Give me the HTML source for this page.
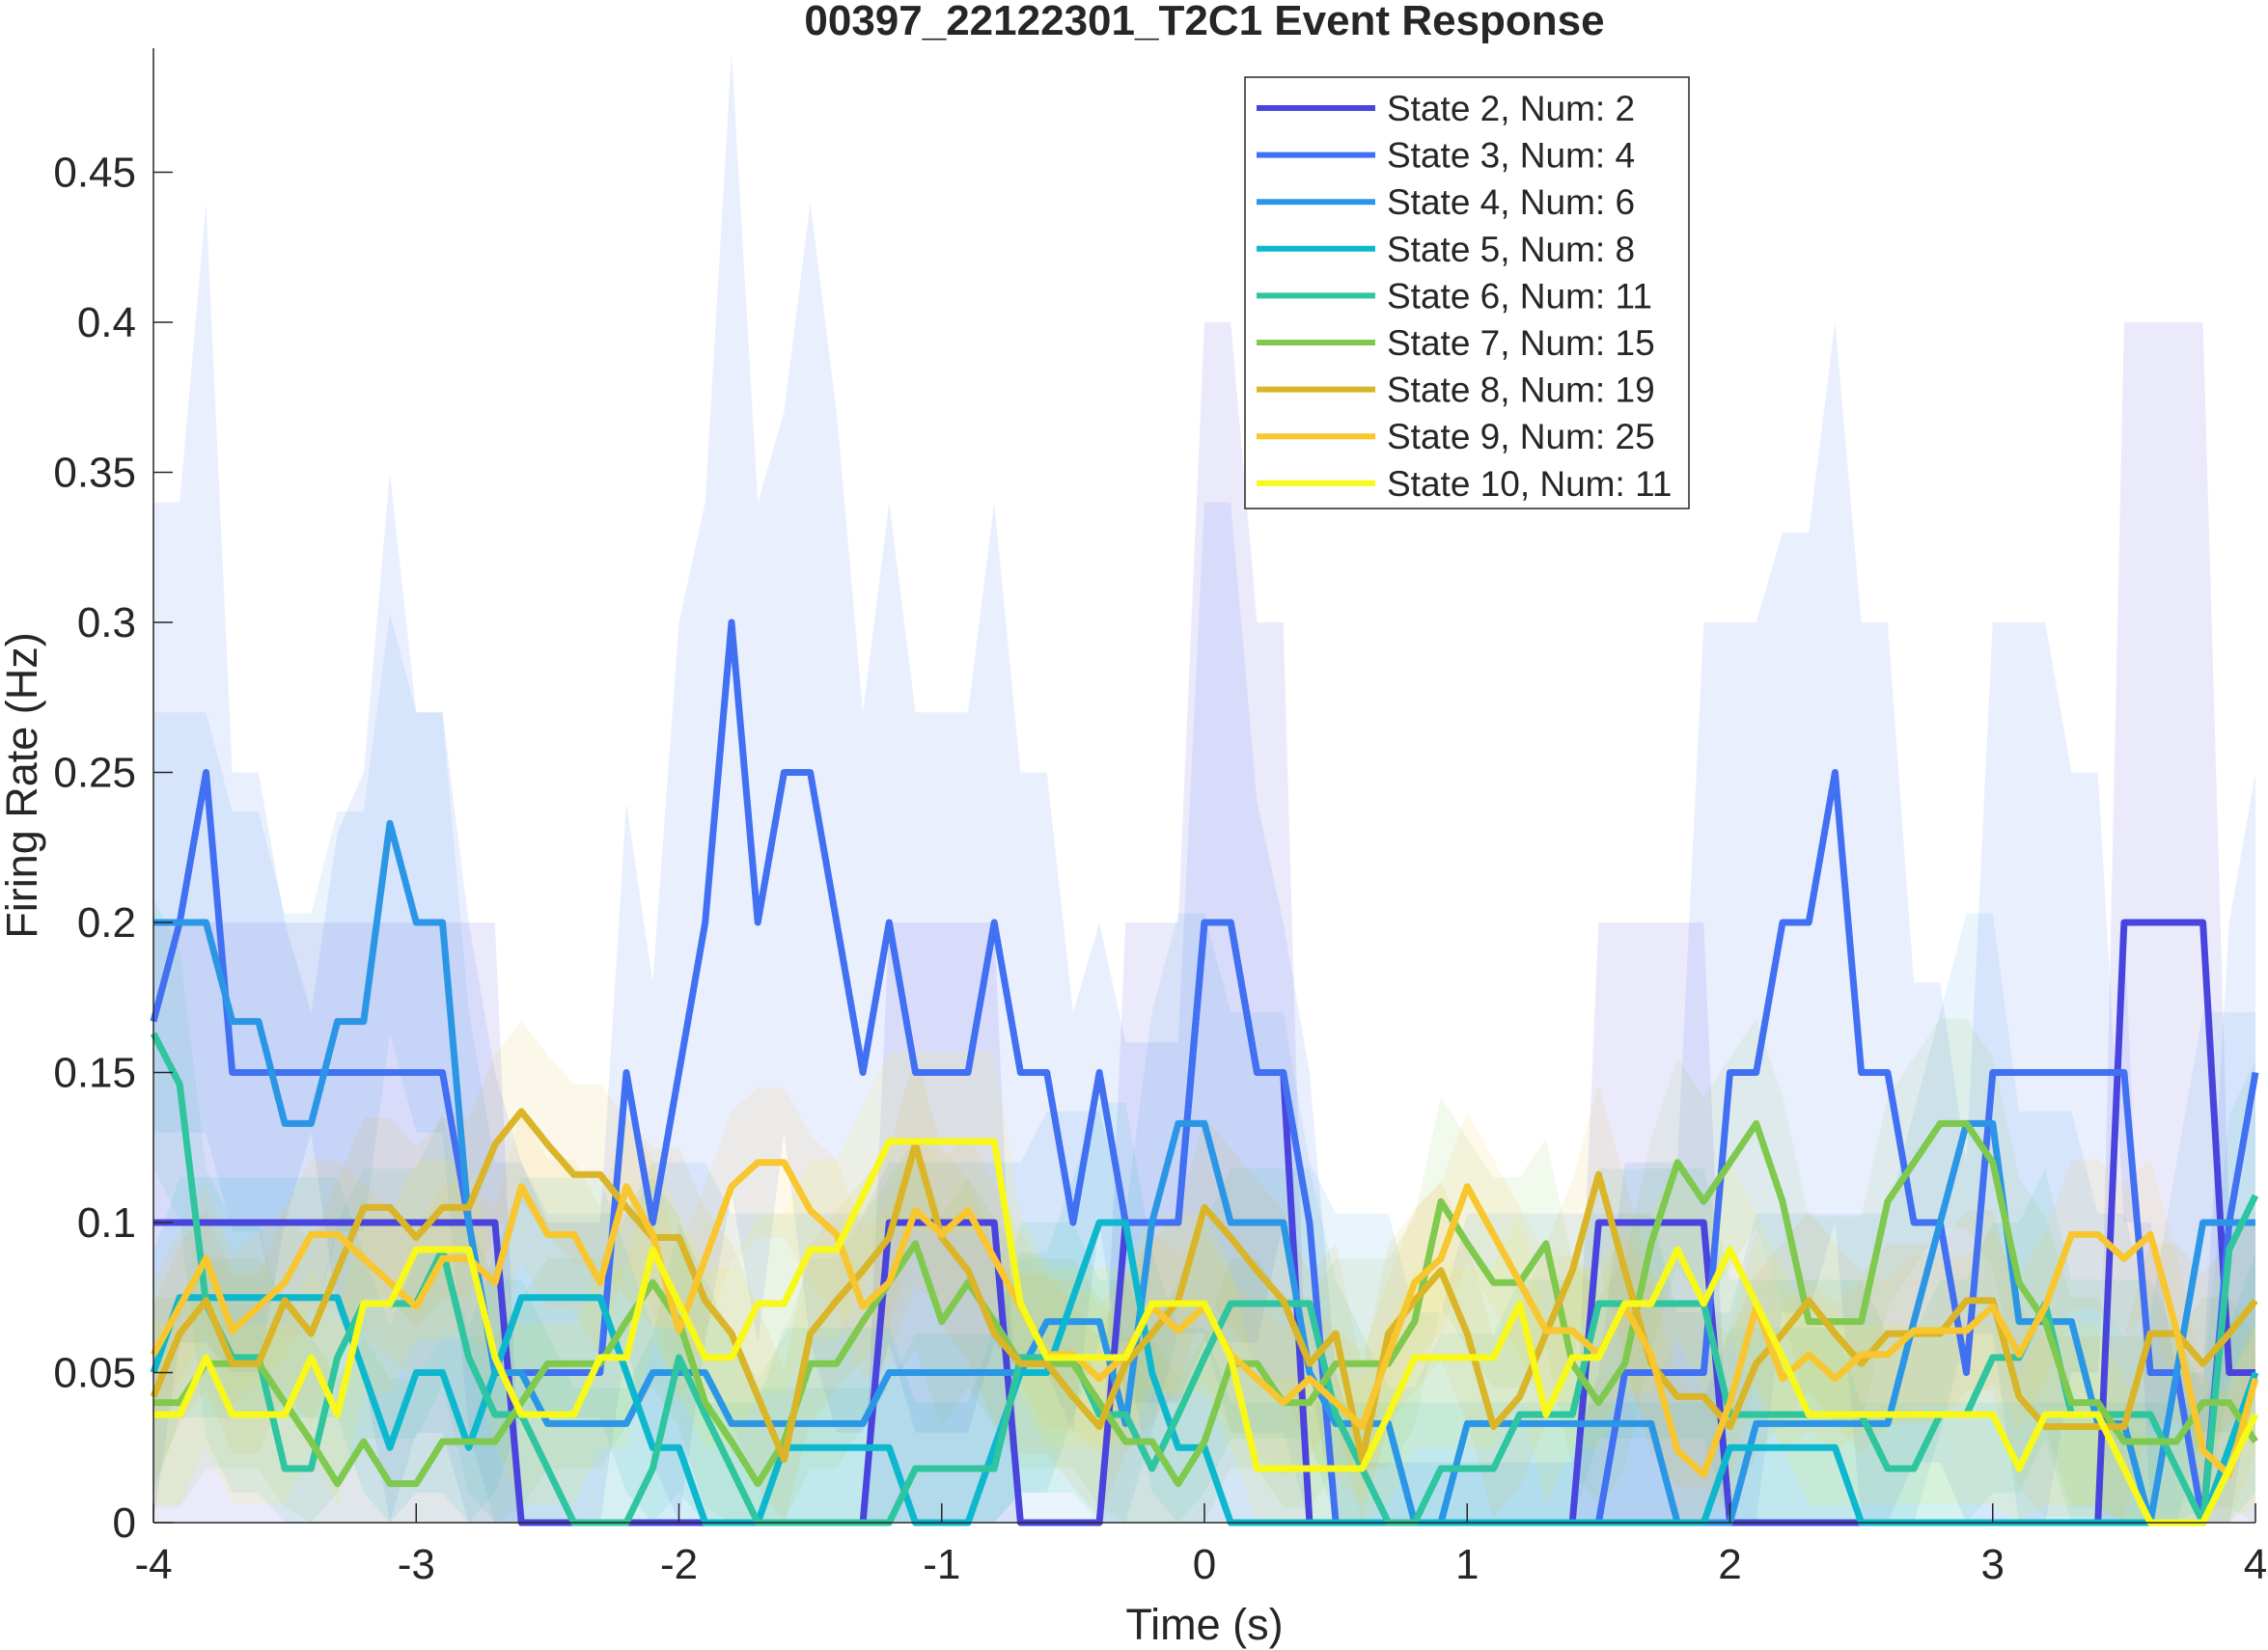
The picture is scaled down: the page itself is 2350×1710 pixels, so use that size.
<!DOCTYPE html>
<html><head><meta charset="utf-8"><style>
html,body{margin:0;padding:0;background:#fff}
svg{display:block}
text{font-family:"Liberation Sans",sans-serif;fill:#262626}
</style></head><body>
<svg id="chart" width="2350" height="1710" viewBox="0 0 2350 1710" xmlns="http://www.w3.org/2000/svg">
<rect width="2350" height="1710" fill="#fff"/>
<text x="1248" y="36" text-anchor="middle" font-size="44" font-weight="bold" fill="#000">00397_22122301_T2C1 Event Response</text>
<g id="bands"></g>
<g id="lines"></g>
<g id="axes"></g>
<g id="legend"></g>
<text x="1248" y="1699" text-anchor="middle" font-size="45">Time (s)</text>
<text transform="translate(38,814) rotate(-90)" text-anchor="middle" font-size="45">Firing Rate (Hz)</text>
</svg>
<script>
const times = [];
for (let i = 0; i <= 80; i++) times.push(-4 + i * 0.1);
const seriesNames = ["State 2, Num: 2","State 3, Num: 4","State 4, Num: 6","State 5, Num: 8","State 6, Num: 11","State 7, Num: 15","State 8, Num: 19","State 9, Num: 25","State 10, Num: 11"];
const seriesColors = ["#4A44DE","#4170F3","#2C96E6","#0DB8CF","#2FC59F","#7FC94E","#D9B527","#F8C62F","#F8F819"];
const xTicks = [-4,-3,-2,-1,0,1,2,3,4];
const yTicks = [0,0.05,0.1,0.15,0.2,0.25,0.3,0.35,0.4,0.45];
const yTickLabels = ["0","0.05","0.1","0.15","0.2","0.25","0.3","0.35","0.4","0.45"];
const s2 = [0.1,0.1,0.1,0.1,0.1,0.1,0.1,0.1,0.1,0.1,0.1,0.1,0.1,0.1,0,0,0,0,0,0,0,0,0,0,0,0,0,0,0.1,0.1,0.1,0.1,0.1,0,0,0,0,0.1,0.1,0.1,0.2,0.2,0.15,0.15,0,0,0,0,0,0,0,0,0,0,0,0.1,0.1,0.1,0.1,0.1,0,0,0,0,0,0,0,0,0,0,0,0,0,0,0,0.2,0.2,0.2,0.2,0.05,0.05];
const s3 = [0.167,0.2,0.25,0.15,0.15,0.15,0.15,0.15,0.15,0.15,0.15,0.15,0.1,0.05,0.05,0.05,0.05,0.05,0.15,0.1,0.15,0.2,0.3,0.2,0.25,0.25,0.2,0.15,0.2,0.15,0.15,0.15,0.2,0.15,0.15,0.1,0.15,0.1,0.1,0.1,0.2,0.2,0.15,0.15,0.1,0,0,0,0,0,0,0,0,0,0,0,0.05,0.05,0.05,0.05,0.15,0.15,0.2,0.2,0.25,0.15,0.15,0.1,0.1,0.05,0.15,0.15,0.15,0.15,0.15,0.15,0.05,0.05,0,0.1,0.15];
const s3Upper = [0.34,0.34,0.44,0.25,0.25,0.2,0.17,0.23,0.25,0.35,0.27,0.27,0.2,0.15,0.12,0.1,0.1,0.1,0.24,0.18,0.3,0.34,0.49,0.34,0.37,0.44,0.37,0.27,0.34,0.27,0.27,0.27,0.34,0.25,0.25,0.17,0.2,0.16,0.16,0.16,0.34,0.34,0.24,0.2,0.15,0.05,0.02,0.02,0.02,0.02,0.02,0.02,0.02,0.02,0.02,0.05,0.12,0.12,0.12,0.3,0.3,0.3,0.33,0.33,0.4,0.3,0.3,0.18,0.18,0.12,0.3,0.3,0.3,0.25,0.25,0.1,0.1,0.05,0.05,0.2,0.25];
const s4 = [0.2,0.2,0.2,0.167,0.167,0.133,0.133,0.167,0.167,0.233,0.2,0.2,0.1,0.05,0.05,0.033,0.033,0.033,0.033,0.05,0.05,0.05,0.033,0.033,0.033,0.033,0.033,0.033,0.05,0.05,0.05,0.05,0.05,0.05,0.067,0.067,0.067,0.033,0.1,0.133,0.133,0.1,0.1,0.1,0.05,0.033,0.033,0.033,0,0,0.033,0.033,0.033,0.033,0.033,0.033,0.033,0.033,0,0,0,0.033,0.033,0.033,0.033,0.033,0.033,0.067,0.1,0.133,0.133,0.067,0.067,0.067,0.033,0.033,0,0.05,0.1,0.1,0.1];
const s5 = [0.05,0.075,0.075,0.075,0.075,0.075,0.075,0.075,0.05,0.025,0.05,0.05,0.025,0.05,0.075,0.075,0.075,0.075,0.05,0.025,0.025,0,0,0,0.025,0.025,0.025,0.025,0.025,0,0,0,0.025,0.05,0.05,0.075,0.1,0.1,0.05,0.025,0.025,0,0,0,0,0,0,0,0,0,0,0,0,0,0,0,0,0,0,0,0.025,0.025,0.025,0.025,0.025,0,0,0,0,0,0,0,0,0,0,0,0,0,0,0.025,0.05];
const s6 = [0.163,0.146,0.073,0.055,0.055,0.018,0.018,0.055,0.073,0.073,0.073,0.091,0.055,0.036,0.036,0.018,0,0,0,0.018,0.055,0.036,0.018,0,0,0,0,0,0,0.018,0.018,0.018,0.018,0.055,0.055,0.055,0.036,0.036,0.018,0.036,0.055,0.073,0.073,0.073,0.073,0.036,0.018,0,0,0.018,0.018,0.018,0.036,0.036,0.036,0.073,0.073,0.073,0.073,0.073,0.036,0.036,0.036,0.036,0.036,0.036,0.018,0.018,0.036,0.036,0.055,0.055,0.073,0.036,0.036,0.036,0.036,0.018,0,0.091,0.109];
const s7 = [0.04,0.04,0.053,0.053,0.053,0.04,0.027,0.013,0.027,0.013,0.013,0.027,0.027,0.027,0.04,0.053,0.053,0.053,0.067,0.08,0.067,0.04,0.027,0.013,0.027,0.053,0.053,0.067,0.08,0.093,0.067,0.08,0.067,0.053,0.053,0.053,0.04,0.027,0.027,0.013,0.027,0.053,0.053,0.04,0.04,0.053,0.053,0.053,0.067,0.107,0.093,0.08,0.08,0.093,0.053,0.04,0.053,0.093,0.12,0.107,0.12,0.133,0.107,0.067,0.067,0.067,0.107,0.12,0.133,0.133,0.12,0.08,0.067,0.04,0.04,0.027,0.027,0.027,0.04,0.04,0.027];
const s8 = [0.042,0.063,0.074,0.053,0.053,0.074,0.063,0.084,0.105,0.105,0.095,0.105,0.105,0.126,0.137,0.126,0.116,0.116,0.105,0.095,0.095,0.074,0.063,0.042,0.021,0.063,0.074,0.084,0.095,0.126,0.095,0.084,0.063,0.053,0.053,0.042,0.032,0.053,0.063,0.074,0.105,0.095,0.084,0.074,0.053,0.063,0.021,0.063,0.074,0.084,0.063,0.032,0.042,0.063,0.084,0.116,0.084,0.053,0.042,0.042,0.032,0.053,0.063,0.074,0.063,0.053,0.063,0.063,0.063,0.074,0.074,0.042,0.032,0.032,0.032,0.032,0.063,0.063,0.053,0.063,0.074];
const s9 = [0.056,0.072,0.088,0.064,0.072,0.08,0.096,0.096,0.088,0.08,0.072,0.088,0.088,0.08,0.112,0.096,0.096,0.08,0.112,0.096,0.064,0.088,0.112,0.12,0.12,0.104,0.096,0.072,0.08,0.104,0.096,0.104,0.088,0.072,0.056,0.056,0.048,0.056,0.072,0.064,0.072,0.056,0.048,0.04,0.048,0.04,0.032,0.056,0.08,0.088,0.112,0.096,0.08,0.064,0.064,0.056,0.072,0.056,0.024,0.016,0.04,0.072,0.048,0.056,0.048,0.056,0.056,0.064,0.064,0.064,0.072,0.056,0.072,0.096,0.096,0.088,0.096,0.064,0.024,0.016,0.048];
const s10 = [0.036,0.036,0.055,0.036,0.036,0.036,0.055,0.036,0.073,0.073,0.091,0.091,0.091,0.055,0.036,0.036,0.036,0.055,0.055,0.091,0.073,0.055,0.055,0.073,0.073,0.091,0.091,0.109,0.127,0.127,0.127,0.127,0.127,0.073,0.055,0.055,0.055,0.055,0.073,0.073,0.073,0.055,0.018,0.018,0.018,0.018,0.018,0.036,0.055,0.055,0.055,0.055,0.073,0.036,0.055,0.055,0.073,0.073,0.091,0.073,0.091,0.073,0.055,0.036,0.036,0.036,0.036,0.036,0.036,0.036,0.036,0.018,0.036,0.036,0.036,0.018,0,0,0,0.018,0.036];
const bandHalfWidths = [null,null,0.07,0.04,0.045,0.035,0.03,0.025,0.03];
const allSeries = [s2,s3,s4,s5,s6,s7,s8,s9,s10];

const NS = "http://www.w3.org/2000/svg";
const X0 = 159, X1 = 2337, YB = 1578, YT = 50, YMAX = 0.4913;
const xs = t => X0 + (t + 4) / 8 * (X1 - X0);
const ys = v => YB - Math.min(v, YMAX) / YMAX * (YB - YT);
function mk(tag, attrs, parent){const e=document.createElementNS(NS,tag);for(const k in attrs)e.setAttribute(k,attrs[k]);parent.appendChild(e);return e;}

const gb = document.getElementById("bands");
allSeries.forEach((s, i) => {
  let up, lo;
  if (i === 0) { up = s.map(v => v * 2); lo = s.map(() => 0); }
  else if (i === 1) { up = s3Upper; lo = s.map((v, k) => Math.max(0, 2 * v - s3Upper[k])); }
  else { up = s.map(v => v + bandHalfWidths[i]); lo = s.map(v => Math.max(0, v - bandHalfWidths[i])); }
  let d = "M" + times.map((t, k) => xs(t).toFixed(1) + "," + ys(up[k]).toFixed(1)).join("L");
  for (let k = times.length - 1; k >= 0; k--) d += "L" + xs(times[k]).toFixed(1) + "," + ys(lo[k]).toFixed(1);
  const p = mk("path", {d: d + "Z", fill: seriesColors[i], "fill-opacity": i < 2 ? 0.11 : 0.1, stroke: "none"}, gb);
  
  
});
const gl = document.getElementById("lines");
allSeries.forEach((s, i) => {
  const pts = times.map((t, k) => xs(t).toFixed(1) + "," + ys(s[k]).toFixed(1)).join(" ");
  const p = mk("polyline", {points: pts, fill: "none", stroke: seriesColors[i], "stroke-width": 7, "stroke-linejoin": "round"}, gl);
  
  
});
const ga = document.getElementById("axes");
const xl = mk("line", {x1: X0, y1: YB, x2: X1, y2: YB, stroke: "#262626", "stroke-width": 1.5}, ga);


const yl = mk("line", {x1: X0, y1: YT, x2: X0, y2: YB, stroke: "#262626", "stroke-width": 1.5}, ga);


xTicks.forEach(t => {
  mk("line", {x1: xs(t), y1: YB, x2: xs(t), y2: YB - 20, stroke: "#262626", "stroke-width": 1.5}, ga);
  const tx = mk("text", {x: xs(t), y: YB + 58, "text-anchor": "middle", "font-size": 44}, ga);
  tx.textContent = String(t);
  
  
});
yTicks.forEach((v, k) => {
  mk("line", {x1: X0, y1: ys(v), x2: X0 + 20, y2: ys(v), stroke: "#262626", "stroke-width": 1.5}, ga);
  const tx = mk("text", {x: X0 - 18, y: ys(v) + 15, "text-anchor": "end", "font-size": 44}, ga);
  tx.textContent = yTickLabels[k];
  
  
});
const gL = document.getElementById("legend");


mk("rect", {x: 1290, y: 80, width: 460, height: 447, fill: "#fff", stroke: "#262626", "stroke-width": 1.5}, gL);
seriesNames.forEach((n, i) => {
  const y = 112 + i * 48.6;
  const g = mk("g", {}, gL);
  
  
  mk("line", {x1: 1302, y1: y, x2: 1425, y2: y, stroke: seriesColors[i], "stroke-width": 6}, g);
  const tx = mk("text", {x: 1437, y: y + 13, "font-size": 37, fill: "#000"}, g);
  tx.textContent = n;
});
</script>
</body></html>
